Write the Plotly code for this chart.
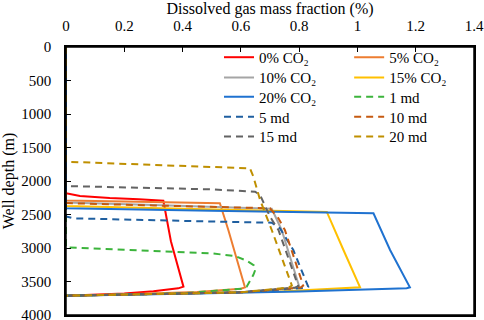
import plotly.graph_objects as go

# ---- data: dissolved gas mass fraction (%) vs well depth (m) ----
co2_0_x = [0, 0, 0.048, 0.15, 0.25, 0.323, 0.334, 0.36, 0.40, 0.403, 0.385, 0.30, 0.20, 0.10, 0]
co2_0_d = [0, 2184, 2224, 2255, 2272, 2284, 2294, 2900, 3560, 3577, 3602, 3645, 3680, 3698, 3712]

co2_5_x = [0, 0, 0.25, 0.528, 0.557, 0.614, 0.60, 0.45, 0.20, 0]
co2_5_d = [0, 2290, 2310, 2333, 2731, 3587, 3608, 3658, 3692, 3712]

co2_10_x = [0, 0, 0.30, 0.706, 0.74, 0.80, 0.79, 0.60, 0.40, 0.20, 0]
co2_10_d = [0, 2320, 2360, 2415, 2731, 3570, 3595, 3660, 3678, 3695, 3712]

co2_15_x = [0, 0, 0.40, 0.895, 0.952, 1.003, 1.009, 0.734, 0.40, 0.20, 0]
co2_15_d = [0, 2373, 2415, 2462, 3030, 3552, 3587, 3650, 3680, 3696, 3712]

co2_20_x = [0, 0, 0.50, 1.055, 1.112, 1.175, 1.18, 1.169, 0.80, 0.40, 0.20, 0]
co2_20_d = [0, 2407, 2445, 2482, 3030, 3527, 3587, 3601, 3648, 3682, 3698, 3714]

md_1_x = [0, 0, 0.20, 0.40, 0.50, 0.58, 0.62, 0.645, 0.65, 0.643, 0.62, 0.60, 0.40, 0.20, 0]
md_1_d = [0, 2990, 3025, 3060, 3080, 3120, 3190, 3260, 3320, 3400, 3577, 3610, 3675, 3695, 3712]

md_5_x = [0, 0, 0.025, 0.30, 0.50, 0.706, 0.734, 0.78, 0.831, 0.815, 0.60, 0.40, 0.20, 0]
md_5_d = [0, 2530, 2557, 2590, 2605, 2622, 2706, 3030, 3577, 3595, 3662, 3680, 3696, 3712]

md_10_x = [0, 0, 0.30, 0.70, 0.729, 0.751, 0.814, 0.805, 0.60, 0.40, 0.20, 0]
md_10_d = [0, 2330, 2365, 2407, 2557, 2731, 3560, 3590, 3662, 3679, 3696, 3712]

md_15_x = [0, 0, 0.25, 0.494, 0.649, 0.666, 0.70, 0.729, 0.797, 0.785, 0.60, 0.40, 0.20, 0]
md_15_d = [0, 2075, 2100, 2124, 2160, 2209, 2533, 2731, 3570, 3592, 3662, 3679, 3696, 3712]

md_20_x = [0, 0, 0.30, 0.631, 0.643, 0.666, 0.706, 0.775, 0.765, 0.60, 0.40, 0.20, 0]
md_20_d = [0, 1712, 1760, 1810, 1935, 2284, 2731, 3560, 3588, 3662, 3679, 3696, 3712]

series_names = ["0% CO₂", "5% CO₂", "10% CO₂", "15% CO₂", "20% CO₂",
                "1 md", "5 md", "10 md", "15 md", "20 md"]

x_tick_vals = [0, 0.2, 0.4, 0.6, 0.8, 1.0, 1.2, 1.4]
x_tick_text = ["0", "0.2", "0.4", "0.6", "0.8", "1", "1.2", "1.4"]
y_tick_vals = [0, 500, 1000, 1500, 2000, 2500, 3000, 3500, 4000]

# ---- styles ----
colors = ["#ff0000", "#ed7d31", "#a5a5a5", "#ffc000", "#1f72d0",
          "#3cb43c", "#1f5fa0", "#c55a11", "#636363", "#bf8f00"]
dashes = ["solid"] * 5 + ["7px,5px"] * 5

xs = [co2_0_x, co2_5_x, co2_10_x, co2_15_x, co2_20_x, md_1_x, md_5_x, md_10_x, md_15_x, md_20_x]
ds = [co2_0_d, co2_5_d, co2_10_d, co2_15_d, co2_20_d, md_1_d, md_5_d, md_10_d, md_15_d, md_20_d]

FONT = "Liberation Serif"

# legend grid: 2 columns x 5 rows (row-major, as in the reference)
legend_col_x = [0.375, 0.694]
legend_row_y = [0.961, 0.885, 0.813, 0.739, 0.665]

fig = go.Figure()
layout_legends = {}
for i, (name, x, d, c, dash) in enumerate(zip(series_names, xs, ds, colors, dashes)):
    lg = "legend" if i == 0 else f"legend{i + 1}"
    fig.add_trace(go.Scatter(x=x, y=d, mode="lines", name=name, legend=lg,
                             line=dict(color=c, width=2, dash=dash)))
    layout_legends[lg] = dict(x=legend_col_x[i % 2], xanchor="left",
                              y=legend_row_y[i // 2], yanchor="middle",
                              bgcolor="rgba(0,0,0,0)", borderwidth=0,
                              font=dict(family=FONT, size=15, color="black"))

fig.update_layout(
    width=484, height=320,
    margin=dict(l=66, r=10, t=47, b=5, autoexpand=False),
    paper_bgcolor="white", plot_bgcolor="white",
    font=dict(family=FONT, size=15, color="black"),
    showlegend=True,
    **layout_legends,
)
# plot frame
fig.add_shape(type="rect", xref="x domain", yref="y domain", x0=0, x1=1, y0=0, y1=1,
              line=dict(color="black", width=1.5), fillcolor="rgba(0,0,0,0)", layer="above")

fig.update_xaxes(range=[0, 1.4], side="top", tickvals=x_tick_vals, ticktext=x_tick_text,
                 ticks="inside", ticklen=5, tickcolor="black", tickwidth=1.2,
                 automargin=False, ticklabeloverflow="allow",
                 showline=True, linecolor="black", linewidth=1.5, mirror=True,
                 showgrid=False, zeroline=False, ticklabelstandoff=8,
                 title=dict(text="Dissolved gas mass fraction (%)", standoff=6,
                            font=dict(family=FONT, size=16)))
fig.update_yaxes(range=[4000, 0], tickvals=y_tick_vals, automargin=False,
                 ticklabeloverflow="allow",
                 ticks="inside", ticklen=5, tickcolor="black", tickwidth=1.2,
                 showline=True, linecolor="black", linewidth=1.5, mirror=True,
                 showgrid=False, zeroline=False, ticklabelstandoff=10,
                 title=dict(text="Well depth (m)", standoff=4,
                            font=dict(family=FONT, size=16)))

fig.write_html(
    "out.html", config={"displayModeBar": False},
    post_script=("document.documentElement.style.margin='0';"
                 "document.documentElement.style.overflow='hidden';"
                 "document.body.style.margin='0';document.body.style.padding='0';"
                 "document.body.style.overflow='hidden';"))
